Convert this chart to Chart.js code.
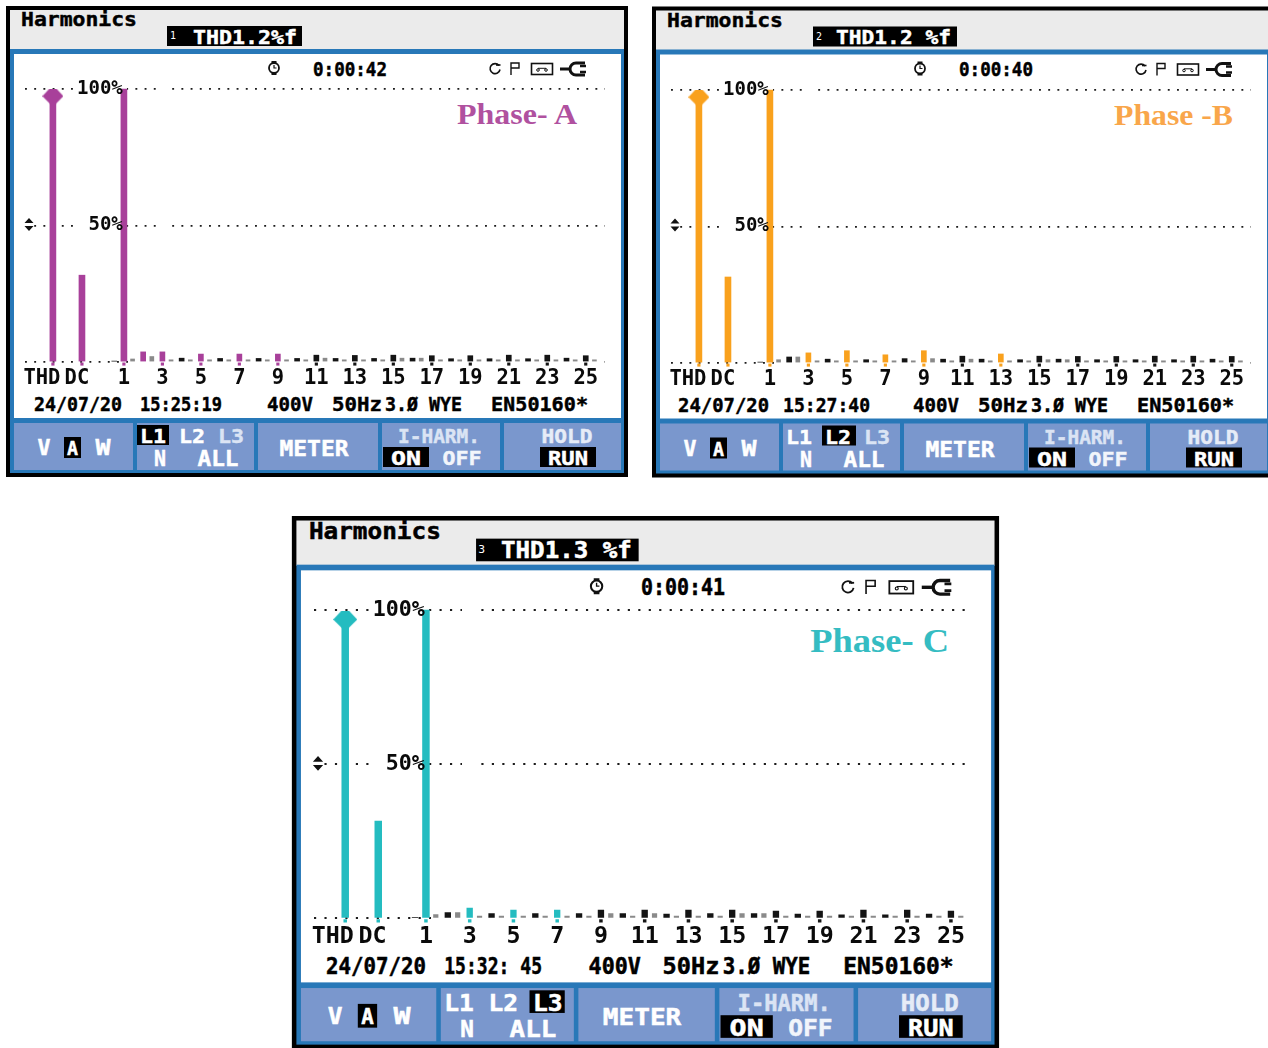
<!DOCTYPE html>
<html><head><meta charset="utf-8">
<style>
html,body{margin:0;padding:0;background:#fff;width:1268px;height:1048px;overflow:hidden}
svg{position:absolute;left:0;top:0}
canvas{position:absolute}
</style>
<script src="https://cdn.jsdelivr.net/npm/chart.js@4"></script>
</head><body>
<svg id="chrome" width="1268" height="1048" xmlns="http://www.w3.org/2000/svg"></svg>
<script>
// ---------- data (percent of fundamental) ----------
const categoryLabels = ['THD','DC','1','3','5','7','9','11','13','15','17','19','21','23','25'];
const labelOrders    = [-3.26,-1.44,1,3,5,7,9,11,13,15,17,19,21,23,25];
const yTickValues    = [0,50,100];
const yTickLabels    = [' 0%',' 50%','100%'];

const mainOrders = [-2.69,-1.18,1];
const mainA = [97.2,31.8,100];
const mainB = [97.2,31.5,100];
const mainC = [96.8,31.6,100];

const harmonicOrders = [0.5,2,3,4,5,6,7,8,9,10,11,12,13,14,15,16,17,18,19,20,21,22,23,24,25];
const harmonicsA = [0.3,3.7,3.7,1.4,2.9,1.3,2.9,1.3,2.9,1.3,2.5,1.3,2.4,1.3,2.5,1.4,2.3,1.2,2.3,1.2,2.5,1.2,2.5,1.4,2.3];
const harmonicsB = [0.3,2.2,3.7,1.4,4.5,1.2,3.0,1.6,4.5,1.4,2.5,1.4,3.3,1.2,2.5,1.4,2.4,1.2,2.4,1.2,2.5,1.2,2.5,1.4,2.4];
const harmonicsC = [0.3,1.9,3.4,1.6,2.7,1.6,2.7,1.6,2.7,1.6,2.7,1.4,2.7,1.6,2.7,1.6,2.4,1.4,2.4,1.2,2.7,1.2,2.7,1.4,2.4];

const interOrders = [1.45,2.45,3.45,4.45,5.45,6.45,7.45,8.45,9.45,10.45,11.45,12.45,13.45,14.45,15.45,16.45,17.45,18.45,19.45,20.45,21.45,22.45,23.45,24.45,25.45];
const interA = [1.1,2.0,0.8,0.8,0.8,0.8,0.8,0.8,0.8,0.8,1.4,0.8,0.8,0.8,1.4,1.4,0.8,0.8,0.8,0.8,0.8,0.8,0.8,0.8,0.8];
const interB = [1.2,2.2,0.8,0.8,0.8,0.8,0.8,0.8,1.6,0.8,1.4,0.8,0.8,0.8,1.2,1.2,0.8,0.8,0.8,0.8,0.8,0.8,0.8,0.8,0.8];
const interC = [1.3,1.9,0.8,0.8,0.8,0.8,0.8,0.8,1.6,0.8,1.6,0.8,0.8,0.8,1.6,1.6,0.8,0.8,0.8,0.8,0.8,0.8,0.8,0.8,0.8];

const stubOrders = [-2.69,-1.18,1,3,5,7,9,11,13,15,17,19,21,23,25];
const stubValues = [-1.2,-1.2,-1.2,-1.2,-1.2,-1.2,-1.2,-1.2,-1.2,-1.2,-1.2,-1.2,-1.2,-1.2,-1.2];

const highlightA = [2,3,5,7,9];
const highlightB = [3,5,7,9,13];
const highlightC = [3,5,7];

// ---------- panels ----------
const panels = [
 {ox:7, oy:6, s:1, sy:1, id:1, color:'#a8409a', text:'#b0519f', phase:'Phase- A', px:[457,577], py:124,
  main:mainA, harm:harmonicsA, inter:interA, hi:highlightA,
  thd:'THD1.2%f', thdBox:[167,302], thdText:[193,297], timer:'0:00:42', clock:'15:25:19', clockX:[140,222], date:[34,122], L:[137,169]},
 {ox:653, oy:6.5, s:1, sy:1, id:2, color:'#f9a11d', text:'#f9a64a', phase:'Phase -B', px:[468,587], py:124,
  main:mainB, harm:harmonicsB, inter:interB, hi:highlightB,
  thd:'THD1.2 %f', thdBox:[167,311], thdText:[190,305], timer:'0:00:40', clock:'15:27:40', clockX:[137,224], date:[32,123], L:[176,210]},
 {ox:293, oy:516, s:1.137, sy:1.132, id:3, color:'#24bcc0', text:'#35bcc2', phase:'Phase- C', px:[462,584], py:126,
  main:mainC, harm:harmonicsC, inter:interC, hi:highlightC,
  thd:'THD1.3 %f', thdBox:[168,311], thdText:[190,305], timer:'0:00:41', clock:'15:32: 45', clockX:[140,226], date:[36,124], L:[215,246]}
];

const MONO = '"DejaVu Sans Mono"';
const svg = document.getElementById('chrome');
function rect(x,y,w,h,f){return `<rect x="${x}" y="${y}" width="${w}" height="${h}" fill="${f}"/>`;}
function txt(t,x1,x2,y,size,fill,fam,weight,sw){
  fam = fam||MONO; weight = weight||'bold';
  const st = sw===undefined?0.45:sw;
  return `<text x="${x1}" y="${y}" font-family='${fam}' font-weight="${weight}" font-size="${size}" fill="${fill}" stroke="${fill}" stroke-width="${st}" textLength="${x2-x1}" lengthAdjust="spacingAndGlyphs" xml:space="preserve">${t}</text>`;
}
function ctxt(t,cx,w,y,size,fill){return txt(t,cx-w/2,cx+w/2,y,size,fill);}

function icons(){
  const k='#111';
  return `
  <g fill="none" stroke="${k}" stroke-width="1.8">
    <circle cx="274" cy="68" r="5"/><path d="M274 65v3h2.5" stroke-width="1.2"/>
    <path d="M271.5 62h5M271.5 74h5" stroke-width="2.2"/>
    <path d="M499 65.5a5 5 0 1 0 1 4" stroke-width="1.6"/><path d="M496 65h4.5" stroke-width="1.6"/>
    <path d="M511 75V63h8v5h-8" stroke-width="1.4"/>
    <rect x="531.5" y="63.5" width="21" height="11" stroke-width="1.6"/>
    <circle cx="538" cy="70" r="1.3" stroke-width="1"/><circle cx="546" cy="70" r="1.3" stroke-width="1"/><path d="M538 68.3h8" stroke-width="1"/>
    <path d="M585 63h-9a6 6 0 0 0 0 12h9" stroke-width="3"/>
  </g>
  <path d="M560 67.5h10v3h-10z" fill="${k}"/><path d="M580 66h6M580 72h6" stroke="${k}" stroke-width="2.4"/>
  <path d="M29 218l4.5 5h-9zM29 231l4.5-5h-9z" fill="${k}"/>`;
}

let out='';
panels.forEach(p=>{
  const BL='#2878b8', BT='#7a97cd', W='#fff', K='#000';
  let g=`<g transform="translate(${p.ox-7*p.s} ${p.oy-6*p.sy}) scale(${p.s} ${p.sy})">`;
  g+=rect(6,6,622,471,K);
  g+=rect(10,10,614,40,'#ebebeb');
  g+=rect(10,49,614,424,BL);
  g+=rect(14,54,607,364,W);
  g+=rect(14,423,119,47,BT)+rect(137,423,117,47,BT)+rect(258,423,120,47,BT)+rect(382,423,118,47,BT)+rect(504,423,117,47,BT);
  g+=txt('Harmonics',21,137,26,20,K);
  g+=rect(p.thdBox[0],26,p.thdBox[1]-p.thdBox[0],20,K);
  g+=txt(String(p.id),170,176,39,10,W,MONO,'normal',0);
  g+=txt(p.thd,p.thdText[0],p.thdText[1],43.5,20,W);
  g+=txt(p.timer,313,387,75.5,20,K);
  g+=icons();
  g+=txt(p.phase,p.px[0],p.px[1],p.py,30,p.text,'"Liberation Serif"','bold',0);
  g+=txt('24/07/20',p.date[0],p.date[1],411,20,K);
  g+=txt(p.clock,p.clockX[0],p.clockX[1],411,20,K);
  g+=txt('400V',267,313,411,20,K);
  g+=txt('50Hz',332,382,411,20,K);
  g+=txt('3.Ø WYE',385,462,411,20,K);
  g+=txt('EN50160*',491,588,411,20,K);
  g+=ctxt('V',44,13,455,21,W);
  g+=rect(64,437,17,21,K)+ctxt('A',72.5,11,455,19,W);
  g+=ctxt('W',103,15,455,21,W);
  g+=rect(p.L[0],425,p.L[1]-p.L[0],20,K);
  g+=ctxt('L1',153,26,443,20,W);
  g+=ctxt('L2',192,26,443,20,W);
  g+=ctxt('L3',231,26,443,20,p.id===3?W:'#dbe4f4');
  g+=ctxt('N',160,12,466,21,W);
  g+=ctxt('ALL',218,41,466,21,W);
  g+=ctxt('METER',314,69,456,21,W);
  g+=ctxt('I-HARM.',439,82,443,20,'#dbe4f4');
  g+=rect(383,447,46,20,K)+ctxt('ON',406,30,465,20,W);
  g+=ctxt('OFF',462,39,465,20,'#f2f5fb');
  g+=ctxt('HOLD',567,51,443,20,'#e6ecf7');
  g+=rect(540,447,56,20,K)+ctxt('RUN',568,40,465,20,W);
  g+='</g>';
  out+=g;
});
svg.innerHTML=out;

// ---------- charts ----------
const gridGaps = {
  100:[[75,127],[156,168]],
  50:[[22,34],[75,127],[156,168]],
  0:[[128,600]]
};
const noMargins = a => { a.paddingLeft=a.paddingRight=a.paddingTop=a.paddingBottom=0; };

panels.forEach(p=>{
  const s=p.s, sy=p.sy;
  const X=u=>p.ox+(u-7)*s, Y=u=>p.oy+(u-6)*sy;
  const c=document.createElement('canvas');
  const left=14, right=621, top=72, bottom=396;
  const cw=(right-left)*s, ch=(bottom-top)*sy;
  c.style.left=X(left)+'px'; c.style.top=Y(top)+'px';
  c.style.width=cw+'px'; c.style.height=ch+'px';
  c.width=cw; c.height=ch;
  document.body.appendChild(c);

  const d=document.createElement('canvas');
  d.width=Math.round(21*s); d.height=Math.round(16*s);
  const dx=d.getContext('2d'); dx.fillStyle=p.color; dx.beginPath();
  const w=d.width,h=d.height;
  dx.moveTo(w*.33,0);dx.lineTo(w*.67,0);dx.lineTo(w,h*.47);dx.lineTo(w*.6,h);dx.lineTo(w*.4,h);dx.lineTo(0,h*.47);dx.closePath();dx.fill();

  const pts=(xs,ys)=>xs.map((x,i)=>({x,y:ys[i]}));
  const hiColor=o=>p.hi.includes(o)?p.color:'#141414';

  new Chart(c,{
    type:'bar',
    data:{datasets:[
      {label:'THD marker',type:'scatter',data:[{x:mainOrders[0],y:p.main[0]}],pointStyle:d,pointRadius:10*s,backgroundColor:p.color,order:0,clip:false},
      {label:'Main',data:pts(mainOrders,p.main),backgroundColor:p.color,barThickness:6*s,order:1},
      {label:'Harmonics',data:pts(harmonicOrders,p.harm),backgroundColor:harmonicOrders.map(hiColor),barThickness:5*s,order:2},
      {label:'Interharmonics',data:pts(interOrders,p.inter),backgroundColor:'#8a8a8a',barThickness:4*s,order:3},
      {label:'Ticks',data:pts(stubOrders,stubValues),backgroundColor:stubOrders.map(o=>(o<=1||p.hi.includes(o))?p.color:'#141414'),barThickness:2.5*s,order:4}
    ]},
    options:{
      responsive:false,animation:false,devicePixelRatio:1,
      layout:{padding:{left:11*s,right:16*s,top:4*sy,bottom:0}},
      plugins:{legend:{display:false},tooltip:{enabled:false},title:{display:false}},
      datasets:{bar:{grouped:false,borderWidth:0}},
      scales:{
        x:{type:'linear',offset:false,min:-4.14,max:26,
          grid:{display:false,drawTicks:false},border:{display:false},
          afterBuildTicks:a=>{a.ticks=labelOrders.map(v=>({value:v}));},
          afterFit:a=>{a.height=30*sy;noMargins(a);},
          ticks:{autoSkip:false,maxRotation:0,minRotation:0,padding:0,color:'#0a0a0a',
            font:{family:MONO.replace(/"/g,''),weight:'bold',size:20.5*s},
            callback:(v,i)=>categoryLabels[i]}
        },
        y:{type:'linear',min:-1.47,max:102.2,
          border:{display:false,dash:[1.9*s,7.3*s]},
          grid:{color:'#1c1c1c',lineWidth:1.8*s,drawTicks:false,z:0},
          afterBuildTicks:a=>{a.ticks=yTickValues.map(v=>({value:v}));},
          afterFit:a=>{a.width=0;noMargins(a);},
          ticks:{mirror:true,padding:52*s,color:'#0a0a0a',z:1,
            font:{family:MONO.replace(/"/g,''),weight:'bold',size:19*s},
            callback:(v,i)=>v===0?'':yTickLabels[i]}
        }
      }
    },
    plugins:[{id:'gridGaps',beforeDatasetsDraw(chart){
      const cx=chart.ctx, ys=chart.scales.y;
      yTickValues.forEach(v=>{
        const py=ys.getPixelForValue(v);
        gridGaps[v].forEach(g=>{
          cx.clearRect((g[0]-left)*s,py-3,(g[1]-g[0])*s,6);
        });
      });
    }}]
  });
});
</script>
</body></html>
